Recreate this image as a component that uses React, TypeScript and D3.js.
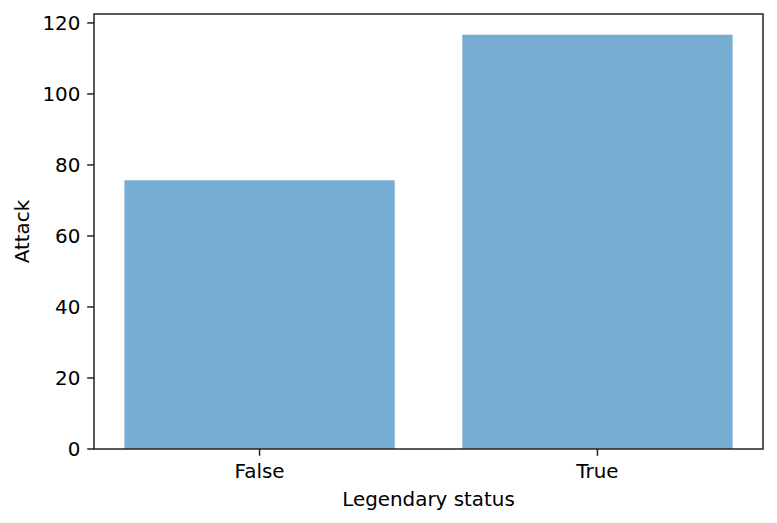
import React from "react";
import * as d3 from "d3";

const categories = ["False", "True"];
const attackMeans = [75.67, 116.68];
const yTicks = [0, 20, 40, 60, 80, 100, 120];

const W = 777;
const H = 523;
const M = { left: 94, right: 763, top: 14, bottom: 449 };
const FONT = "'DejaVu Sans', sans-serif";
const FS = 19.9;

export default function App() {
  const x = d3
    .scaleLinear()
    .domain([-0.49, 1.49])
    .range([M.left, M.right]);
  const y = d3
    .scaleLinear()
    .domain([0, d3.max(attackMeans)! * 1.05])
    .range([M.bottom, M.top]);
  const bw = 0.8;
  const tickLen = 6.8;
  const pad = 6.8;

  return (
    <div style={{ position: "absolute", left: 0, top: 0 }}>
      <svg width={W} height={H} style={{ display: "block", background: "#fff" }}>
        {attackMeans.map((v, i) => (
          <rect
            key={categories[i]}
            x={x(i - bw / 2)}
            y={y(v)}
            width={x(i + bw / 2) - x(i - bw / 2)}
            height={y(0) - y(v)}
            fill="#77acd3"
          />
        ))}
        <rect
          x={M.left}
          y={M.top}
          width={M.right - M.left}
          height={M.bottom - M.top}
          fill="none"
          stroke="#222"
          strokeWidth={1.5}
        />
        {yTicks.map((t) => (
          <g key={t}>
            <line
              x1={M.left - tickLen}
              x2={M.left}
              y1={y(t)}
              y2={y(t)}
              stroke="#222"
              strokeWidth={1.5}
            />
            <text
              x={M.left - tickLen - pad}
              y={y(t)}
              dy="0.36em"
              textAnchor="end"
              fontFamily={FONT}
              fontSize={FS}
              fill="#000"
            >
              {t}
            </text>
          </g>
        ))}
        {categories.map((c, i) => (
          <g key={c}>
            <line
              x1={x(i)}
              x2={x(i)}
              y1={M.bottom}
              y2={M.bottom + tickLen}
              stroke="#222"
              strokeWidth={1.5}
            />
            <text
              x={x(i)}
              y={478}
              textAnchor="middle"
              fontFamily={FONT}
              fontSize={FS}
              fill="#000"
            >
              {c}
            </text>
          </g>
        ))}
        <text
          x={(M.left + M.right) / 2}
          y={506}
          textAnchor="middle"
          fontFamily={FONT}
          fontSize={FS}
          fill="#000"
        >
          Legendary status
        </text>
        <text
          transform={`translate(29, ${(M.top + M.bottom) / 2}) rotate(-90)`}
          textAnchor="middle"
          fontFamily={FONT}
          fontSize={FS}
          fill="#000"
        >
          Attack
        </text>
      </svg>
    </div>
  );
}
